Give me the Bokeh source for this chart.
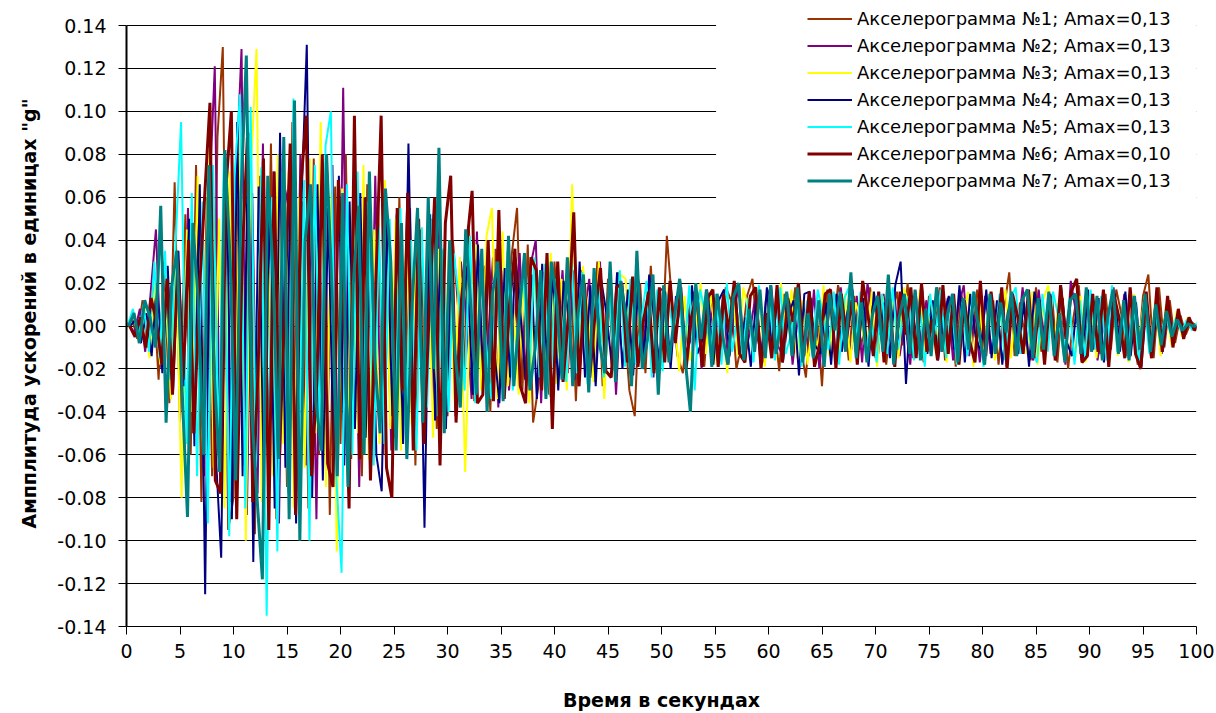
import numpy as np
from bokeh.plotting import figure
from bokeh.models import Legend, LegendItem, NumeralTickFormatter, FixedTicker, BoxAnnotation, Range1d
from bokeh.embed import file_html
from bokeh.resources import INLINE

# sample grid, seconds (0.5 s step); each record starts at its own small offset
base_time = np.arange(201) * 0.5
time_offsets = [0.0, 0.25, 0.15, 0.35, 0.1, 0.3, 0.2]

acc1 = [
    0.000, 0.004, -0.006, 0.012, -0.010, 0.018, -0.025, 0.030, -0.036, 0.067,
    -0.045, 0.052, -0.060, 0.075, -0.082, 0.060, -0.070, 0.088, 0.130, -0.095,
    -0.080, 0.072, -0.065, 0.090, -0.097, 0.070, -0.055, 0.085, -0.090, 0.060,
    -0.075, 0.095, -0.068, 0.058, -0.085, 0.078, -0.060, 0.070, -0.088, 0.065,
    -0.055, 0.080, -0.062, 0.050, -0.070, 0.066, -0.045, 0.058, -0.060, 0.048,
    -0.052, 0.060, -0.040, 0.055, -0.065, 0.045, -0.038, 0.050, -0.048, 0.035,
    -0.042, 0.040, 0.008, -0.030, 0.046, -0.035, 0.012, 0.028, -0.040, 0.036,
    -0.025, 0.004, 0.033, 0.055, -0.030, 0.038, -0.045, -0.028, 0.025, -0.032,
    0.030, -0.012, -0.022, 0.028, -0.035, 0.026, 0.006, -0.020, 0.030, -0.028,
    0.022, -0.018, 0.025, 0.003, -0.030, -0.042, 0.020, -0.022, 0.028, -0.015,
    -0.018, 0.042, 0.010, -0.014, -0.022, 0.006, 0.016, -0.004, -0.019, 0.015,
    0.003, -0.016, 0.018, 0.012, -0.020, -0.008, 0.014, 0.022, -0.006, -0.017,
    0.012, 0.004, -0.021, 0.015, -0.003, 0.018, -0.010, -0.024, 0.013, 0.007,
    -0.028, 0.017, -0.005, 0.019, 0.008, -0.016, 0.014, -0.011, -0.002, 0.018,
    -0.015, 0.012, -0.018, 0.005, 0.016, -0.009, 0.020, -0.015, 0.003, -0.017,
    0.014, -0.006, 0.018, -0.016, 0.009, -0.019, 0.015, 0.004, -0.010, 0.017,
    -0.013, -0.004, 0.012, -0.018, 0.008, 0.025, -0.014, 0.011, -0.007, -0.016,
    0.018, -0.012, 0.006, 0.014, -0.017, 0.013, -0.020, 0.004, 0.019, -0.015,
    0.012, -0.002, -0.013, 0.015, -0.011, 0.017, 0.005, -0.014, 0.010, -0.018,
    0.014, 0.024, -0.015, 0.018, -0.010, 0.012, -0.008, 0.005, -0.004, 0.002,
    0.000,
]

acc2 = [
    0.000, -0.003, 0.008, -0.012, 0.015, 0.045, -0.020, 0.022, -0.028, 0.035,
    -0.040, 0.055, -0.050, 0.048, -0.070, 0.060, 0.121, -0.075, 0.068, -0.082,
    0.070, 0.129, -0.088, 0.062, -0.078, 0.085, -0.060, 0.072, -0.092, 0.055,
    0.068, -0.072, 0.080, -0.065, 0.052, -0.090, 0.064, -0.058, 0.075, -0.070,
    0.111, -0.060, 0.055, -0.075, 0.048, -0.052, 0.070, -0.045, 0.040, -0.058,
    0.052, -0.048, 0.062, -0.040, 0.046, -0.055, 0.038, -0.044, 0.050, -0.035,
    0.036, -0.042, 0.030, 0.006, -0.034, 0.044, -0.028, -0.010, 0.032, -0.038,
    0.026, -0.030, 0.002, 0.034, -0.025, 0.028, 0.040, -0.036, 0.024, -0.030,
    -0.008, 0.026, -0.022, 0.026, -0.028, 0.004, 0.022, -0.026, 0.030, -0.020,
    0.024, -0.032, 0.018, 0.005, -0.022, 0.027, -0.018, 0.020, -0.024, 0.016,
    0.018, -0.016, 0.004, 0.021, -0.013, -0.006, 0.015, -0.020, 0.017, 0.002,
    -0.012, 0.014, -0.018, 0.005, 0.020, -0.015, -0.003, 0.013, -0.017, 0.012,
    0.019, -0.008, -0.013, 0.015, -0.018, 0.004, 0.011, -0.014, 0.017, -0.020,
    0.006, 0.013, -0.015, 0.018, -0.004, -0.011, 0.014, -0.017, 0.020, 0.003,
    -0.013, 0.015, -0.007, 0.017, -0.014, 0.002, -0.018, 0.016, -0.010, 0.012,
    -0.003, 0.018, -0.011, 0.013, -0.016, 0.009, 0.019, -0.014, 0.005, -0.017,
    0.014, -0.013, 0.003, 0.016, -0.019, 0.012, -0.006, 0.018, -0.011, -0.016,
    0.017, -0.005, 0.015, -0.014, 0.011, -0.018, 0.021, 0.006, -0.016, 0.011,
    0.014, -0.016, 0.002, -0.013, 0.018, -0.009, 0.015, -0.014, 0.004, -0.017,
    0.012, -0.015, 0.011, -0.013, 0.009, -0.008, 0.006, -0.004, 0.003, -0.001,
    0.000,
]

acc3 = [
    0.000, 0.005, -0.004, 0.010, -0.015, 0.020, -0.018, 0.016, -0.034, 0.028,
    -0.080, 0.045, -0.040, 0.070, -0.058, 0.082, -0.066, 0.050, -0.085, 0.072,
    -0.060, 0.088, -0.100, 0.075, 0.129, -0.082, 0.068, -0.070, 0.080, -0.055,
    0.072, -0.085, 0.060, -0.066, 0.078, -0.050, 0.095, -0.075, 0.062, -0.105,
    0.064, -0.070, 0.058, -0.050, 0.075, -0.062, 0.045, -0.055, 0.068, -0.048,
    0.050, -0.058, 0.042, -0.046, 0.055, -0.040, 0.047, -0.052, 0.036, -0.042,
    0.040, -0.035, 0.032, -0.068, 0.014, 0.038, -0.030, 0.042, 0.055, -0.034,
    0.044, -0.028, 0.010, -0.032, 0.026, -0.036, 0.030, 0.008, -0.024, 0.034,
    -0.027, 0.022, -0.030, 0.066, -0.022, 0.028, 0.005, -0.026, 0.030, -0.034,
    0.020, -0.018, 0.024, 0.022, -0.020, 0.026, -0.017, -0.004, 0.019, -0.023,
    -0.015, 0.019, 0.006, -0.021, 0.014, -0.016, -0.004, 0.020, -0.013, 0.017,
    -0.018, 0.003, -0.022, 0.016, -0.014, 0.018, 0.007, -0.012, 0.015, -0.019,
    0.013, -0.016, 0.020, -0.005, 0.017, -0.015, 0.012, -0.018, 0.004, -0.011,
    0.019, -0.014, 0.008, -0.012, 0.015, -0.017, 0.011, 0.002, -0.013, 0.016,
    -0.019, 0.014, -0.006, 0.012, -0.015, 0.018, 0.009, -0.011, 0.017, -0.014,
    0.005, -0.013, 0.011, -0.017, 0.014, -0.012, 0.003, 0.016, -0.019, 0.013,
    -0.011, 0.015, -0.016, 0.004, 0.017, -0.015, 0.011, -0.008, -0.013, 0.016,
    -0.018, 0.012, 0.019, -0.011, 0.013, -0.016, 0.006, -0.015, 0.014, -0.017,
    0.011, -0.015, 0.013, -0.003, 0.016, -0.014, 0.011, -0.017, 0.015, -0.006,
    0.014, -0.013, 0.012, -0.014, 0.010, -0.009, 0.007, -0.005, 0.004, -0.002,
    0.000,
]

acc4 = [
    0.000, 0.003, -0.008, 0.006, -0.014, 0.020, -0.022, 0.028, -0.030, 0.035,
    -0.028, 0.050, -0.056, 0.066, -0.125, 0.085, -0.060, -0.108, 0.078, -0.090,
    0.095, -0.070, 0.082, -0.110, 0.065, -0.078, 0.060, -0.085, 0.090, -0.066,
    0.075, -0.092, 0.058, 0.131, -0.080, 0.066, -0.072, 0.055, -0.060, 0.070,
    -0.065, 0.058, -0.048, 0.062, -0.052, 0.045, -0.060, -0.077, 0.050, -0.042,
    0.048, -0.055, 0.085, -0.038, 0.040, -0.094, 0.052, -0.044, 0.036, -0.048,
    0.035, -0.040, 0.006, 0.028, -0.032, 0.038, -0.026, 0.030, -0.010, -0.036,
    0.027, -0.024, 0.032, 0.004, -0.028, 0.024, -0.034, 0.029, -0.022, 0.026,
    -0.030, 0.021, 0.003, -0.025, 0.030, -0.024, 0.019, -0.028, 0.022, 0.006,
    -0.018, 0.025, -0.020, 0.017, -0.023, 0.021, -0.016, 0.024, 0.002, -0.019,
    0.016, -0.020, 0.014, 0.003, -0.017, 0.019, -0.013, -0.006, 0.015, -0.018,
    0.012, 0.017, -0.014, 0.020, -0.012, 0.004, -0.019, 0.013, -0.016, 0.018,
    -0.011, 0.014, -0.017, 0.005, 0.012, -0.023, 0.015, 0.016, -0.009, -0.013,
    0.011, -0.018, 0.015, -0.012, 0.006, 0.017, -0.014, 0.013, -0.019, 0.016,
    -0.004, 0.011, -0.015, 0.019, 0.030, -0.027, 0.014, -0.008, 0.018, -0.013,
    0.012, -0.016, 0.004, 0.014, -0.011, 0.019, -0.017, 0.015, -0.005, -0.012,
    0.017, -0.015, 0.012, -0.018, 0.006, 0.014, -0.013, 0.011, -0.019, 0.016,
    0.003, -0.012, 0.015, -0.016, 0.018, -0.007, -0.014, 0.012, -0.015, 0.017,
    -0.011, 0.013, -0.017, 0.005, 0.015, -0.012, 0.016, -0.014, 0.011, -0.019,
    0.012, -0.014, 0.011, -0.012, 0.010, -0.007, 0.005, -0.003, 0.002, -0.001,
    0.000,
]

acc5 = [
    0.000, 0.008, -0.004, 0.010, -0.012, 0.030, -0.015, 0.035, -0.025, 0.040,
    0.095, -0.055, 0.062, -0.070, 0.058, -0.092, 0.075, -0.060, 0.080, -0.098,
    0.070, 0.108, -0.085, 0.102, -0.066, 0.074, -0.135, 0.060, -0.105, 0.072,
    -0.078, 0.106, -0.062, 0.068, -0.100, 0.075, -0.058, 0.084, 0.100, -0.070,
    -0.115, 0.066, -0.060, 0.072, -0.052, 0.058, -0.065, 0.046, -0.055, 0.050,
    -0.044, 0.055, -0.050, 0.040, -0.058, 0.046, -0.038, 0.052, -0.042, 0.036,
    -0.040, 0.034, 0.010, -0.030, 0.042, -0.036, 0.028, -0.008, -0.034, 0.030,
    -0.026, 0.035, -0.030, 0.004, 0.025, -0.028, 0.032, -0.024, 0.029, -0.033,
    0.022, 0.006, -0.026, 0.030, -0.022, 0.025, -0.027, 0.003, 0.020, -0.024,
    0.018, -0.021, 0.026, -0.019, 0.022, -0.018, 0.002, 0.021, -0.024, 0.017,
    -0.021, 0.015, -0.003, 0.016, -0.014, 0.019, -0.030, 0.017, 0.006, -0.013,
    0.015, -0.018, 0.020, -0.012, 0.004, -0.015, 0.013, -0.017, 0.019, -0.008,
    0.012, -0.016, 0.018, -0.013, -0.004, 0.015, -0.019, 0.012, -0.014, 0.017,
    0.005, -0.011, 0.016, -0.018, 0.013, 0.019, -0.012, 0.016, -0.014, 0.003,
    -0.017, 0.015, -0.013, 0.018, -0.011, 0.006, 0.014, -0.016, 0.012, -0.019,
    0.015, -0.004, 0.017, -0.015, 0.013, -0.018, 0.011, -0.014, 0.016, 0.002,
    -0.019, 0.013, -0.011, 0.015, -0.016, 0.012, 0.018, -0.013, 0.005, -0.011,
    -0.017, 0.015, -0.012, 0.016, 0.004, -0.014, 0.013, -0.018, 0.012, -0.015,
    0.017, -0.011, 0.014, -0.016, 0.019, -0.012, 0.006, -0.015, 0.014, -0.018,
    0.012, -0.013, 0.008, -0.006, 0.005, -0.004, 0.004, -0.003, 0.003, -0.002,
    0.002,
]

acc6 = [
    0.000, -0.005, 0.004, -0.010, 0.013, 0.002, -0.018, 0.022, -0.032, 0.030,
    -0.025, 0.040, -0.050, 0.015, 0.060, 0.104, -0.072, -0.078, 0.065, 0.100,
    -0.090, 0.030, 0.088, -0.082, -0.020, 0.078, -0.095, 0.072, -0.060, 0.010,
    0.085, -0.088, 0.066, 0.098, -0.070, -0.025, 0.080, -0.064, -0.075, 0.068,
    0.015, -0.085, 0.098, -0.062, 0.060, -0.072, 0.020, 0.098, -0.066, -0.080,
    0.055, -0.030, 0.062, -0.058, 0.050, -0.055, 0.008, 0.060, -0.065, 0.048,
    0.070, -0.045, 0.012, 0.038, 0.063, -0.036, -0.032, 0.040, -0.035, 0.054,
    -0.034, 0.010, 0.036, -0.028, -0.036, 0.032, 0.026, -0.030, 0.034, -0.048,
    0.030, -0.026, 0.004, 0.053, -0.028, 0.020, -0.024, 0.006, 0.027, -0.021,
    -0.024, 0.018, 0.020, -0.017, 0.023, -0.019, 0.002, 0.016, -0.022, 0.018,
    -0.017, 0.021, -0.008, 0.018, -0.020, 0.004, 0.016, -0.019, 0.013, 0.017,
    -0.019, 0.015, -0.003, 0.021, -0.013, -0.017, 0.014, 0.018, -0.020, 0.006,
    -0.015, 0.019, -0.017, 0.013, 0.002, 0.020, -0.014, 0.016, -0.019, -0.008,
    0.015, 0.017, -0.020, 0.015, -0.006, 0.012, -0.018, 0.021, 0.005, -0.014,
    0.016, -0.017, 0.014, -0.019, 0.016, -0.004, 0.018, -0.015, 0.020, -0.012,
    0.003, -0.016, 0.019, -0.013, 0.015, -0.018, 0.012, -0.007, -0.017, 0.021,
    -0.014, 0.016, -0.005, 0.018, -0.020, 0.015, 0.004, -0.013, 0.017, -0.015,
    0.012, -0.018, 0.014, -0.016, 0.019, -0.006, 0.016, 0.022, -0.017, -0.014,
    0.015, -0.012, 0.017, -0.019, 0.014, 0.003, -0.015, 0.018, -0.013, -0.020,
    0.016, -0.015, 0.018, -0.012, 0.014, -0.010, 0.008, -0.006, 0.004, -0.002,
    0.000,
]

acc7 = [
    0.000, 0.006, -0.008, 0.012, 0.004, -0.010, 0.056, -0.045, 0.018, 0.035,
    -0.030, -0.089, 0.048, 0.012, -0.060, 0.075, -0.022, -0.068, 0.082, 0.030,
    -0.072, 0.060, 0.126, -0.040, -0.080, -0.118, 0.070, 0.025, -0.062, 0.088,
    -0.090, 0.105, -0.100, 0.040, 0.066, -0.035, -0.058, 0.080, 0.018, -0.070,
    0.062, -0.075, 0.020, 0.056, -0.060, 0.072, -0.015, -0.050, 0.064, 0.030,
    -0.058, 0.048, -0.062, 0.010, 0.055, -0.045, 0.060, -0.020, 0.083, -0.050,
    0.040, -0.012, -0.038, 0.045, 0.008, -0.032, 0.036, -0.040, 0.015, 0.030,
    -0.035, 0.042, -0.028, 0.005, 0.034, -0.030, -0.010, 0.026, -0.034, 0.030,
    0.012, -0.025, 0.032, -0.028, 0.006, 0.024, -0.031, 0.027, -0.008, -0.022,
    0.030, -0.026, 0.021, 0.004, -0.028, 0.035, -0.020, -0.006, 0.024, -0.032,
    0.019, -0.017, 0.004, 0.022, -0.015, -0.040, 0.020, -0.006, 0.017, -0.019,
    0.015, -0.004, -0.018, 0.013, 0.020, -0.016, 0.008, -0.012, 0.017, -0.015,
    0.019, -0.013, 0.003, 0.016, -0.014, 0.018, -0.017, 0.006, -0.015, 0.012,
    -0.019, 0.015, -0.002, 0.016, -0.012, 0.025, -0.015, 0.011, -0.017, 0.005,
    0.014, -0.012, 0.024, -0.018, 0.004, 0.015, -0.013, 0.017, -0.016, 0.008,
    -0.014, 0.018, -0.012, 0.005, 0.015, -0.017, 0.013, -0.011, 0.016, -0.004,
    -0.018, 0.015, -0.013, 0.011, -0.003, 0.016, -0.014, 0.012, 0.017, -0.015,
    0.013, -0.011, 0.016, -0.014, 0.006, -0.017, 0.012, 0.015, -0.013, 0.018,
    -0.012, 0.014, -0.016, 0.004, 0.017, -0.013, 0.012, -0.016, 0.014, -0.011,
    0.015, -0.012, 0.010, -0.009, 0.007, -0.005, 0.003, -0.002, 0.001, 0.000,
    0.000,
]

series = [acc1, acc2, acc3, acc4, acc5, acc6, acc7]
labels = [
    "Акселерограмма №1; Amax=0,13",
    "Акселерограмма №2; Amax=0,13",
    "Акселерограмма №3; Amax=0,13",
    "Акселерограмма №4; Amax=0,13",
    "Акселерограмма №5; Amax=0,13",
    "Акселерограмма №6; Amax=0,10",
    "Акселерограмма №7; Amax=0,13",
]
colors = ["#993300", "#800080", "#FFFF00", "#000080", "#00FFFF", "#800000", "#008080"]
widths = [2, 2, 2, 2, 2, 3, 3]

y_ticks = [-0.14, -0.12, -0.10, -0.08, -0.06, -0.04, -0.02, 0.0,
           0.02, 0.04, 0.06, 0.08, 0.10, 0.12, 0.14]
x_ticks = [0, 5, 10, 15, 20, 25, 30, 35, 40, 45, 50, 55, 60, 65, 70, 75, 80, 85, 90, 95, 100]

FONT = "DejaVu Sans"

# frame reaches the top of the canvas so the legend (which sits above 0.14) is not clipped
p = figure(width=1216, height=713, output_backend="svg", toolbar_location=None,
           x_range=Range1d(0, 100), y_range=Range1d(-0.14, 0.15165),
           min_border_left=126, min_border_right=20, min_border_top=0,
           min_border_bottom=87)
p.outline_line_color = None
p.background_fill_color = "white"
p.border_fill_color = "white"

p.xgrid.visible = False
p.ygrid.ticker = FixedTicker(ticks=y_ticks)
p.ygrid.grid_line_color = "black"
p.ygrid.grid_line_width = 1
p.ygrid.grid_line_alpha = 1.0

for ax in (p.xaxis[0], p.yaxis[0]):
    ax.axis_line_color = "black"
    ax.major_tick_line_color = "black"
    ax.major_tick_in = 0
    ax.major_tick_out = 8
    ax.minor_tick_line_color = None
    ax.major_label_text_font = FONT
    ax.major_label_text_font_size = "19px"
    ax.major_label_text_color = "black"
    ax.axis_label_text_font = FONT
    ax.axis_label_text_font_size = "19px"
    ax.axis_label_text_font_style = "bold"
    ax.axis_label_text_color = "black"

p.yaxis.ticker = FixedTicker(ticks=y_ticks)
p.yaxis.bounds = (-0.14, 0.14)
p.yaxis.formatter = NumeralTickFormatter(format="0.00")
p.yaxis.axis_line_width = 2
p.yaxis.major_label_standoff = 12
p.yaxis.axis_label = 'Ампплитуда ускорений в единицах "g"'
p.yaxis.axis_label_standoff = 14

p.xaxis.ticker = FixedTicker(ticks=x_ticks)
p.xaxis.major_label_standoff = 9
p.xaxis.axis_label = "Время в секундах"
p.xaxis.axis_label_standoff = 28

renderers = []
for vals, off, col, w in zip(series, time_offsets, colors, widths):
    r = p.line(base_time[:len(vals)] + off, vals, line_color=col, line_width=w)
    renderers.append(r)

# white area behind the legend (blanks the gridlines there)
p.add_layout(BoxAnnotation(left=55.1, right=101, bottom=0.058, top=0.16,
                           fill_color="white", fill_alpha=1.0, line_color=None))

legend = Legend(items=[LegendItem(label=l, renderers=[r]) for l, r in zip(labels, renderers)],
                location=(681, 432), orientation="vertical")
legend.padding = 0
legend.margin = 0
legend.spacing = 0
legend.border_line_color = None
legend.background_fill_color = "white"
legend.background_fill_alpha = 1.0
legend.glyph_width = 45
legend.glyph_height = 27
legend.label_height = 27
legend.label_standoff = 5
legend.label_text_font = FONT
legend.label_text_font_size = "18px"
legend.label_text_color = "black"
p.add_layout(legend, "center")

open("out.html", "w").write(file_html(p, INLINE))
